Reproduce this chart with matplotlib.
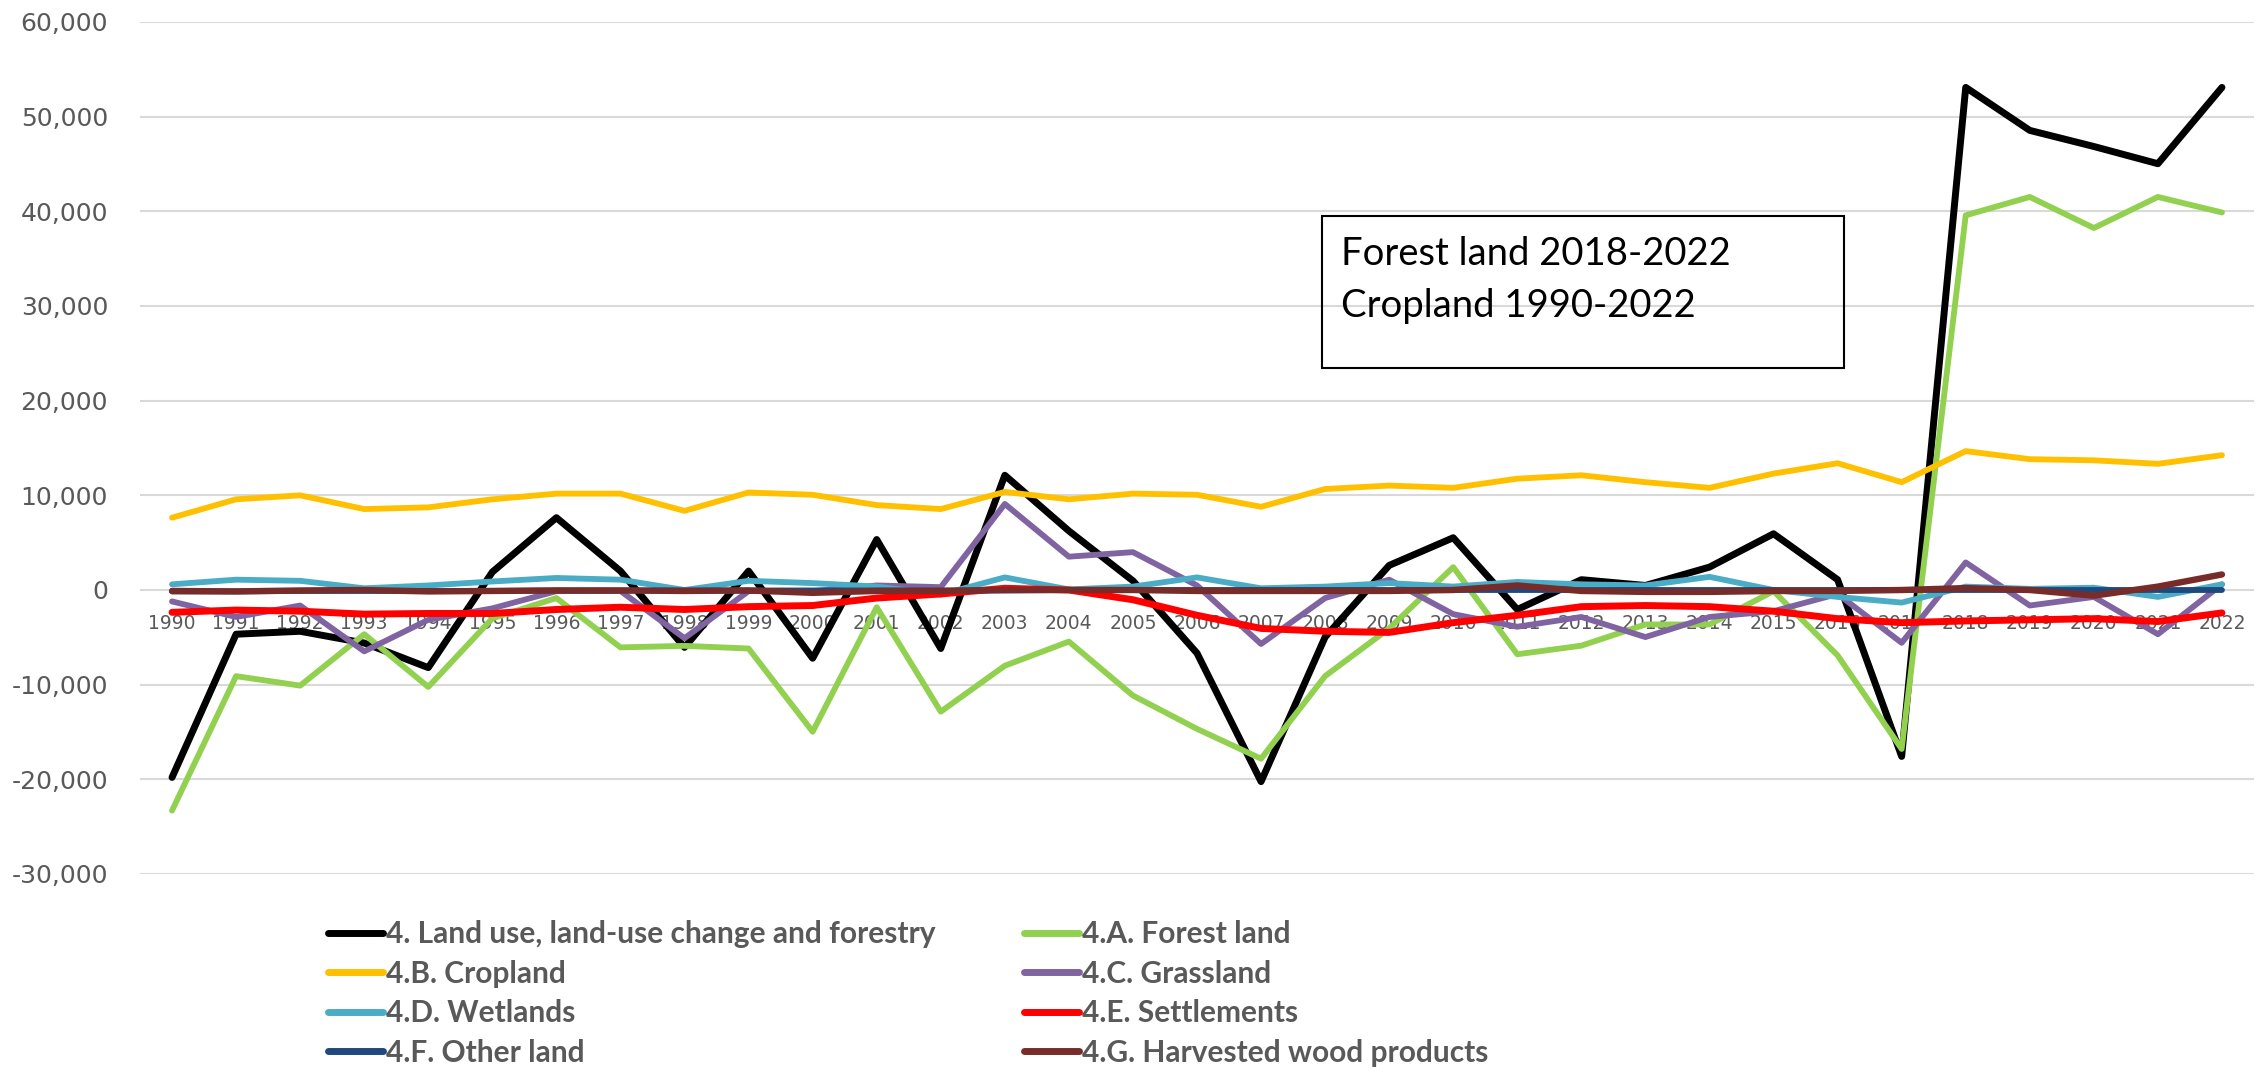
import numpy as np
import matplotlib
matplotlib.use('Agg')
from matplotlib import pyplot as plt
from matplotlib.ticker import FuncFormatter

years = list(range(1990, 2023))

lulucf = [-19800, -4670, -4360, -5600, -8200, 1900, 7640, 2000, -6060, 2000,
          -7210, 5330, -6180, 12120, 6240, 970, -6670, -20240, -4970, 2600,
          5520, -2060, 1090, 480, 2420, 5940, 1090, -17580, 53090, 48550,
          46850, 45030, 53090]
forest = [-23300, -9100, -10100, -4670, -10240, -3000, -850, -6060, -5900, -6180,
          -14970, -1820, -12850, -8000, -5450, -11150, -14670, -17820, -9090, -4060,
          2420, -6790, -5880, -3640, -3640, -120, -6910, -16790, 39580, 41520,
          38240, 41520, 39880]
cropland = [7640, 9580, 10000, 8550, 8730, 9580, 10180, 10180, 8360, 10300,
            10060, 8970, 8550, 10360, 9580, 10180, 10060, 8790, 10670, 11030,
            10790, 11760, 12120, 11390, 10790, 12300, 13390, 11390, 14670, 13820,
            13700, 13330, 14240]
grassland = [-1210, -2850, -1640, -6480, -3150, -1940, -120, -100, -5090, -120,
             -120, 480, 300, 9090, 3520, 4000, 480, -5700, -850, 1090,
             -2550, -3880, -2850, -4970, -2850, -2240, -420, -5580, 2910, -1640,
             -730, -4670, 600]
wetlands = [600, 1090, 970, 180, 480, 900, 1270, 1090, 0, 970,
            730, 360, -480, 1330, 60, 360, 1330, 180, 360, 730,
            360, 850, 600, 480, 1390, 0, -730, -1330, 360, 120,
            240, -730, 600]
settlements = [-2360, -2120, -2240, -2550, -2480, -2480, -2060, -1820, -2060, -1760,
               -1640, -850, -420, 180, 0, -1030, -2670, -4060, -4360, -4480,
               -3450, -2670, -1760, -1640, -1760, -2240, -3030, -3450, -3270, -3150,
               -3030, -3330, -2420]
other_land = [-150, -150, -100, -100, -100, -100, -50, -50, -50, -50,
              -50, -50, -50, -50, 0, 0, 0, 0, 0, 0,
              0, 0, 0, 0, 0, 0, 0, 0, 0, 0,
              0, 0, 0]
hwp = [-100, -150, -50, 0, -150, -100, -50, -50, -100, -50,
       -300, -100, -100, 0, 0, 0, -100, -100, -100, -100,
       0, 480, -100, -200, -200, -100, -100, 0, 200, 0,
       -600, 360, 1640]

series = [
    ('4. Land use, land-use change and forestry', lulucf, '#000000', 5.0),
    ('4.A. Forest land', forest, '#92d050', 4.2),
    ('4.B. Cropland', cropland, '#ffc000', 4.2),
    ('4.C. Grassland', grassland, '#8064a2', 4.2),
    ('4.D. Wetlands', wetlands, '#4bacc6', 4.2),
    ('4.E. Settlements', settlements, '#ff0000', 5.0),
    ('4.F. Other land', other_land, '#1f497d', 4.2),
    ('4.G. Harvested wood products', hwp, '#772c2a', 4.6),
]

fig = plt.figure(figsize=(22.63, 10.81), dpi=100)
ax = fig.add_axes([140 / 2263, 1 - 874 / 1081, 2114 / 2263, 852 / 1081])

for label, vals, color, lw in series:
    ax.plot(years, vals, color=color, lw=lw, label=label,
            solid_capstyle='round', solid_joinstyle='round')

ax.set_xlim(1989.5, 2022.5)
ax.set_ylim(-30000, 60000)
ax.set_yticks(np.arange(-30000, 60001, 10000))
ax.yaxis.set_major_formatter(FuncFormatter(lambda v, p: f'{int(v):,}'))
ax.set_xticks(years)
ax.set_xticklabels([str(y) for y in years])
ax.grid(axis='y', color='#d9d9d9', lw=1.5)
ax.set_axisbelow(True)
for s in ['top', 'right', 'left']:
    ax.spines[s].set_visible(False)
ax.spines['bottom'].set_position(('data', 0))
ax.spines['bottom'].set_visible(False)
ax.tick_params(axis='y', length=0, pad=23, labelsize=18, labelcolor='#595959')
ax.tick_params(axis='x', length=0, pad=17, labelsize=13.5, labelcolor='#595959')

# text box
fig.text(1341 / 2263, 1 - 265 / 1081, 'Forest land 2018-2022',
         fontsize=27.5, family='Lato', va='baseline')
fig.text(1341 / 2263, 1 - 317 / 1081, 'Cropland 1990-2022',
         fontsize=27.5, family='Lato', va='baseline')
box = plt.Rectangle((1322 / 2263, 1 - 368 / 1081), 522 / 2263, 152 / 1081,
                    transform=fig.transFigure, fill=False, ec='black', lw=1.5)
fig.add_artist(box)

# legend is filled row by row in the original
handles, labels = ax.get_legend_handles_labels()
order = [0, 2, 4, 6, 1, 3, 5, 7]
leg = fig.legend([handles[i] for i in order], [labels[i] for i in order],
                 ncol=2, loc='upper left',
                 bbox_to_anchor=(328 / 2263, 1 - 920 / 1081),
                 frameon=False, borderpad=0, borderaxespad=0,
                 handlelength=1.85, handletextpad=0.1, columnspacing=2.95,
                 labelspacing=0.39,
                 prop={'family': 'Lato', 'weight': 'bold', 'size': 21.5})
for t in leg.get_texts():
    t.set_color('#595959')
for h in leg.legend_handles:
    h.set_linewidth(5)

fig.savefig('out.png', dpi=100)
